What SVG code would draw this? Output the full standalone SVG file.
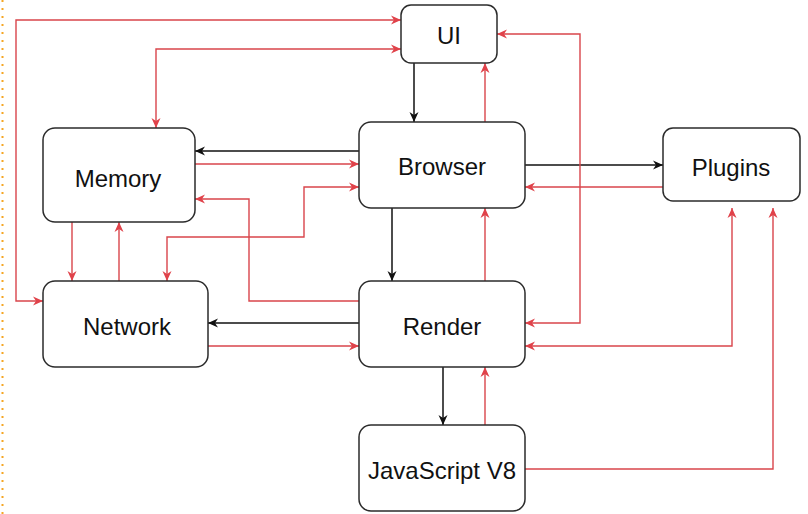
<svg xmlns="http://www.w3.org/2000/svg" width="808" height="514" viewBox="0 0 808 514">
<style>
.box{fill:#fff;stroke:#2b2b2b;stroke-width:1.5}
.lbl{font-family:"Liberation Sans",Arial,sans-serif;font-size:24px;fill:#111;text-anchor:middle;dominant-baseline:central}
.blk{fill:none;stroke:#111;stroke-width:1.5}
.red{fill:none;stroke:#d9454b;stroke-width:1.4}
</style>
<defs>
<marker id="ab" markerUnits="userSpaceOnUse" markerWidth="12" markerHeight="10" refX="10" refY="5" orient="auto-start-reverse" viewBox="0 0 12 10">
<path d="M0,0.5 L10,5 L0,9.5 L3,5 z" fill="#111"/>
</marker>
<marker id="ar" markerUnits="userSpaceOnUse" markerWidth="12" markerHeight="10" refX="10" refY="5" orient="auto-start-reverse" viewBox="0 0 12 10">
<path d="M0,0.5 L10,5 L0,9.5 L3,5 z" fill="#e0424a"/>
</marker>
</defs>
<rect width="808" height="514" fill="#fff"/>
<line x1="2.5" y1="0" x2="2.5" y2="514" stroke="#f5a623" stroke-width="2" stroke-dasharray="2 6"/>
<g id="connectors">
<path class="blk" d="M414,63 V122" marker-end="url(#ab)"/>
<path class="blk" d="M359,151 H195" marker-end="url(#ab)"/>
<path class="blk" d="M525,165 H663" marker-end="url(#ab)"/>
<path class="blk" d="M392,208 V281" marker-end="url(#ab)"/>
<path class="blk" d="M359,323 H208" marker-end="url(#ab)"/>
<path class="blk" d="M443,367 V425" marker-end="url(#ab)"/>
<path class="red" d="M485,122 V63" marker-end="url(#ar)"/>
<path class="red" d="M195,164 H359" marker-end="url(#ar)"/>
<path class="red" d="M167,281 V237 H304 V187 H359" marker-start="url(#ar)" marker-end="url(#ar)"/>
<path class="red" d="M359,301 H249 V199 H195" marker-end="url(#ar)"/>
<path class="red" d="M72,222 V281" marker-end="url(#ar)"/>
<path class="red" d="M119,281 V222" marker-end="url(#ar)"/>
<path class="red" d="M401,20 H16 V301 H43" marker-start="url(#ar)" marker-end="url(#ar)"/>
<path class="red" d="M401,49 H156 V128" marker-start="url(#ar)" marker-end="url(#ar)"/>
<path class="red" d="M497,34 H580 V323 H525" marker-start="url(#ar)" marker-end="url(#ar)"/>
<path class="red" d="M663,187 H525" marker-end="url(#ar)"/>
<path class="red" d="M525,346 H732 V208" marker-start="url(#ar)" marker-end="url(#ar)"/>
<path class="red" d="M525,469 H773 V208" marker-end="url(#ar)"/>
<path class="red" d="M208,346 H359" marker-end="url(#ar)"/>
<path class="red" d="M485,425 V367" marker-end="url(#ar)"/>
<path class="red" d="M485,281 V208" marker-end="url(#ar)"/>
</g>
<g id="ui"><rect class="box" x="401" y="5" width="96" height="58" rx="10"/><text class="lbl" x="449" y="35">UI</text></g>
<g id="browser"><rect class="box" x="359" y="122" width="166" height="86" rx="12"/><text class="lbl" x="442" y="166">Browser</text></g>
<g id="memory"><rect class="box" x="43" y="128" width="152" height="94" rx="12"/><text class="lbl" x="118" y="178">Memory</text></g>
<g id="plugins"><rect class="box" x="663" y="128" width="137" height="73" rx="10"/><text class="lbl" x="731" y="167">Plugins</text></g>
<g id="network"><rect class="box" x="43" y="281" width="165" height="86" rx="12"/><text class="lbl" x="127" y="326">Network</text></g>
<g id="render"><rect class="box" x="359" y="281" width="166" height="86" rx="12"/><text class="lbl" x="442" y="326">Render</text></g>
<g id="javascript"><rect class="box" x="359" y="425" width="166" height="86" rx="12"/><text class="lbl" x="442" y="470">JavaScript V8</text></g>
</svg>
